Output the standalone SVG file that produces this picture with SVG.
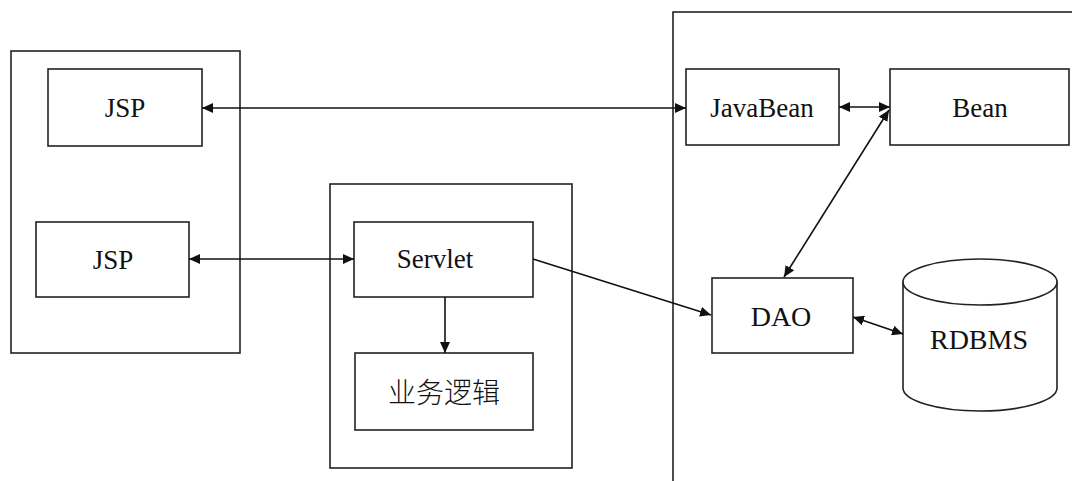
<svg xmlns="http://www.w3.org/2000/svg" width="1072" height="481" viewBox="0 0 1072 481">
<style>
.box{fill:#fff;stroke:#222;stroke-width:1.6}
.frame{fill:none;stroke:#222;stroke-width:1.6}
.lbl{font-family:"Liberation Serif","Times New Roman",serif;font-size:27px;fill:#111;text-anchor:middle}
.cjk{font-family:"Noto Sans CJK SC",sans-serif;font-size:28px;font-weight:300;fill:#111;text-anchor:middle}
.con{fill:none;stroke:#111;stroke-width:1.6}
</style>
<defs>
<marker id="ah" markerUnits="userSpaceOnUse" markerWidth="12" markerHeight="10" refX="11" refY="5" orient="auto-start-reverse">
<path d="M0,0 L11,5 L0,10 z" fill="#111"/>
</marker>
</defs>
<rect width="1072" height="481" fill="#fff"/>
<g id="frame-left"><rect class="frame" x="11" y="51" width="229" height="302"/></g>
<g id="frame-mid"><rect class="frame" x="330" y="184" width="242" height="284"/></g>
<g id="frame-right"><rect class="frame" x="673" y="12" width="420" height="500"/></g>
<g id="jsp1"><rect class="box" x="48" y="69" width="154" height="77"/><text class="lbl" x="125" y="117">JSP</text></g>
<g id="jsp2"><rect class="box" x="36" y="222" width="153" height="75"/><text class="lbl" x="113" y="269">JSP</text></g>
<g id="servlet"><rect class="box" x="354" y="222" width="179" height="75"/><text class="lbl" x="435" y="268">Servlet</text></g>
<g id="logic"><rect class="box" x="355" y="353" width="178" height="77"/><text class="cjk" x="444" y="403">业务逻辑</text></g>
<g id="javabean"><rect class="box" x="686" y="69" width="153" height="76"/><text class="lbl" x="762" y="117">JavaBean</text></g>
<g id="bean"><rect class="box" x="890" y="69" width="179" height="76"/><text class="lbl" x="980" y="117">Bean</text></g>
<g id="dao"><rect class="box" x="712" y="278" width="141" height="75"/><text class="lbl" x="781" y="326" style="font-size:28px">DAO</text></g>
<g id="rdbms">
<path class="box" d="M903,282 L903,388 A77,23 0 0 0 1057,388 L1057,282"/>
<ellipse class="box" cx="980" cy="282" rx="77" ry="23"/>
<text class="lbl" x="979" y="349" style="font-size:28px">RDBMS</text>
</g>
<g id="connectors">
<line class="con" x1="202" y1="108" x2="686" y2="108" marker-start="url(#ah)" marker-end="url(#ah)"/>
<line class="con" x1="189" y1="259" x2="354" y2="259" marker-start="url(#ah)" marker-end="url(#ah)"/>
<line class="con" x1="445" y1="297" x2="445" y2="353" marker-end="url(#ah)"/>
<line class="con" x1="533" y1="259" x2="711" y2="315" marker-end="url(#ah)"/>
<line class="con" x1="839" y1="107" x2="890" y2="107" marker-start="url(#ah)" marker-end="url(#ah)"/>
<line class="con" x1="784" y1="277" x2="889" y2="110" marker-start="url(#ah)" marker-end="url(#ah)"/>
<line class="con" x1="853" y1="317" x2="903" y2="334" marker-start="url(#ah)" marker-end="url(#ah)"/>
</g>
</svg>
